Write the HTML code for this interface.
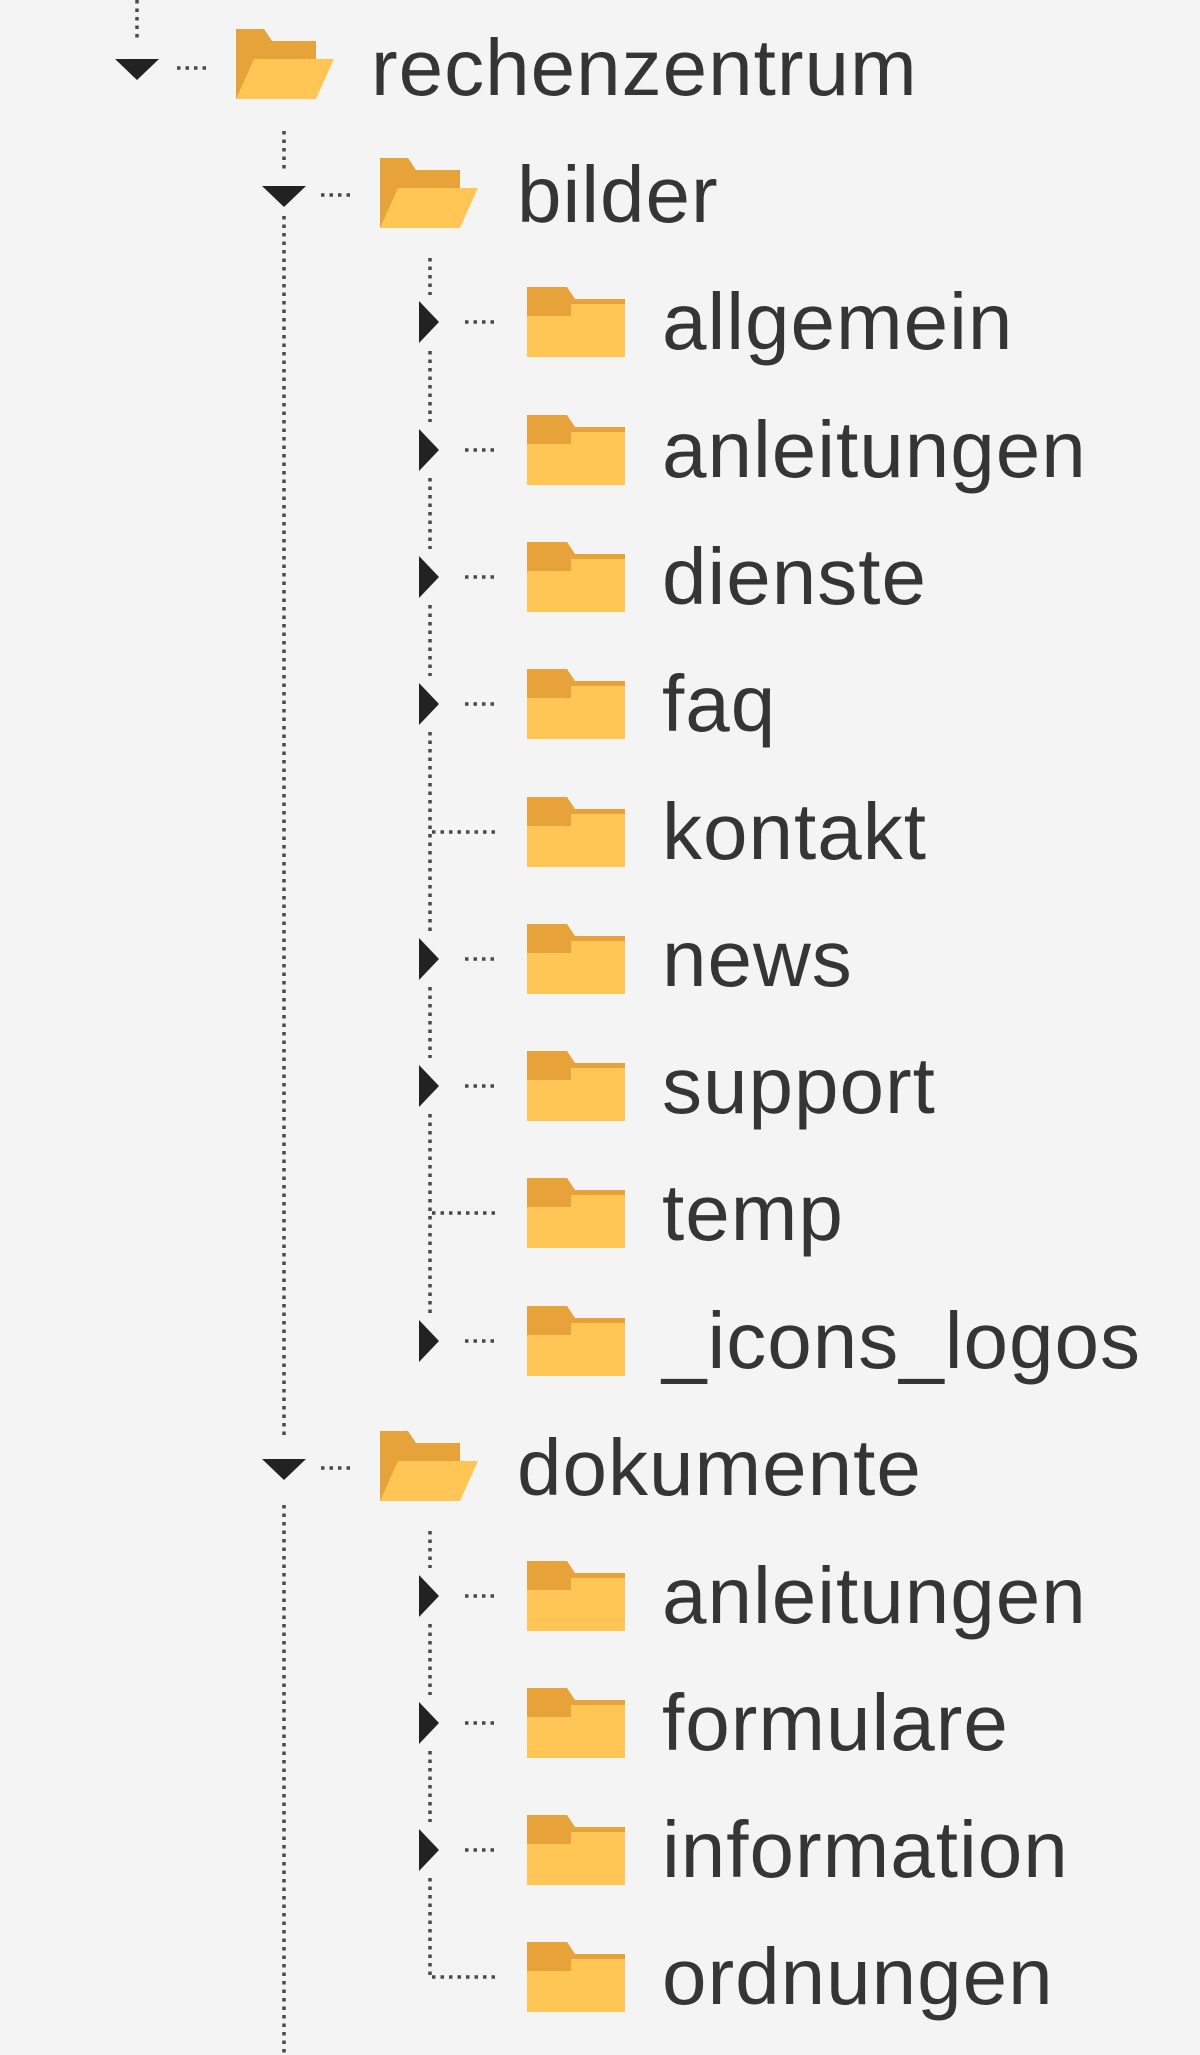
<!DOCTYPE html>
<html><head><meta charset="utf-8"><style>
html,body{margin:0;padding:0;background:#f4f4f4;}
svg{display:block}
text{font-family:"Liberation Sans",sans-serif;font-size:80px;fill:#353535;letter-spacing:1px;}
</style></head><body>
<svg width="1200" height="2055" viewBox="0 0 1200 2055" xmlns="http://www.w3.org/2000/svg">
<defs>
<g id="fc">
<polygon points="0,0 40,0 48,12 98,12 98,70 0,70" fill="#E8A23A"/>
<rect x="0" y="17" width="98" height="53" fill="#FFC655"/>
<rect x="0" y="17" width="44" height="12" fill="#E8A23A"/>
</g>
<g id="fo">
<polygon points="0,0 28,0 36,12 80,12 80,70 0,70" fill="#E8A23A"/>
<polygon points="18,30 98,30 80,70 0,70" fill="#FFC655"/>
</g>
<polygon id="tr" points="-9,-21 11,0 -9,21" fill="#222"/>
<polygon id="td" points="-22,-9 22,-9 0,12" fill="#222"/>
</defs>
<g stroke="#4a4a4a" stroke-width="3.5" stroke-dasharray="3.5 5" fill="none">
<line x1="137" y1="0" x2="137" y2="42"/>
<line x1="177" y1="68" x2="210" y2="68"/>
<line x1="284" y1="131" x2="284" y2="170"/>
<line x1="284" y1="216" x2="284" y2="1440"/>
<line x1="284" y1="1505" x2="284" y2="2055"/>
<line x1="321" y1="195" x2="354" y2="195"/>
<line x1="321" y1="1468" x2="354" y2="1468"/>
<line x1="430" y1="258" x2="430" y2="295"/>
<line x1="430" y1="351" x2="430" y2="422"/>
<line x1="430" y1="478" x2="430" y2="549"/>
<line x1="430" y1="605" x2="430" y2="676"/>
<line x1="430" y1="732" x2="430" y2="931"/>
<line x1="430" y1="987" x2="430" y2="1058"/>
<line x1="430" y1="1114" x2="430" y2="1313"/>
<line x1="465" y1="322" x2="498" y2="322"/>
<line x1="465" y1="450" x2="498" y2="450"/>
<line x1="465" y1="577" x2="498" y2="577"/>
<line x1="465" y1="704" x2="498" y2="704"/>
<line x1="432" y1="832" x2="498" y2="832"/>
<line x1="465" y1="959" x2="498" y2="959"/>
<line x1="465" y1="1086" x2="498" y2="1086"/>
<line x1="432" y1="1213" x2="498" y2="1213"/>
<line x1="465" y1="1341" x2="498" y2="1341"/>
<line x1="430" y1="1531" x2="430" y2="1568"/>
<line x1="430" y1="1624" x2="430" y2="1695"/>
<line x1="430" y1="1751" x2="430" y2="1822"/>
<line x1="430" y1="1878" x2="430" y2="1977"/>
<line x1="465" y1="1596" x2="498" y2="1596"/>
<line x1="465" y1="1723" x2="498" y2="1723"/>
<line x1="465" y1="1850" x2="498" y2="1850"/>
<line x1="432" y1="1977" x2="498" y2="1977"/>
</g>
<use href="#td" x="137" y="68"/>
<use href="#td" x="284" y="195"/>
<use href="#td" x="284" y="1468"/>
<use href="#tr" x="428" y="322"/>
<use href="#tr" x="428" y="450"/>
<use href="#tr" x="428" y="577"/>
<use href="#tr" x="428" y="704"/>
<use href="#tr" x="428" y="959"/>
<use href="#tr" x="428" y="1086"/>
<use href="#tr" x="428" y="1341"/>
<use href="#tr" x="428" y="1596"/>
<use href="#tr" x="428" y="1723"/>
<use href="#tr" x="428" y="1850"/>
<use href="#fo" x="236" y="29"/>
<use href="#fo" x="380" y="158"/>
<use href="#fo" x="380" y="1431"/>
<use href="#fc" x="527" y="287"/>
<use href="#fc" x="527" y="415"/>
<use href="#fc" x="527" y="542"/>
<use href="#fc" x="527" y="669"/>
<use href="#fc" x="527" y="797"/>
<use href="#fc" x="527" y="924"/>
<use href="#fc" x="527" y="1051"/>
<use href="#fc" x="527" y="1178"/>
<use href="#fc" x="527" y="1306"/>
<use href="#fc" x="527" y="1561"/>
<use href="#fc" x="527" y="1688"/>
<use href="#fc" x="527" y="1815"/>
<use href="#fc" x="527" y="1942"/>
<text x="371" y="95">rechenzentrum</text>
<text x="517" y="222">bilder</text>
<text x="662" y="349">allgemein</text>
<text x="662" y="477">anleitungen</text>
<text x="662" y="604">dienste</text>
<text x="662" y="731">faq</text>
<text x="662" y="859">kontakt</text>
<text x="662" y="986">news</text>
<text x="662" y="1113">support</text>
<text x="662" y="1240">temp</text>
<text x="662" y="1368">_icons_logos</text>
<text x="517" y="1495">dokumente</text>
<text x="662" y="1623">anleitungen</text>
<text x="662" y="1750">formulare</text>
<text x="662" y="1877">information</text>
<text x="662" y="2004">ordnungen</text>
</svg>
</body></html>
